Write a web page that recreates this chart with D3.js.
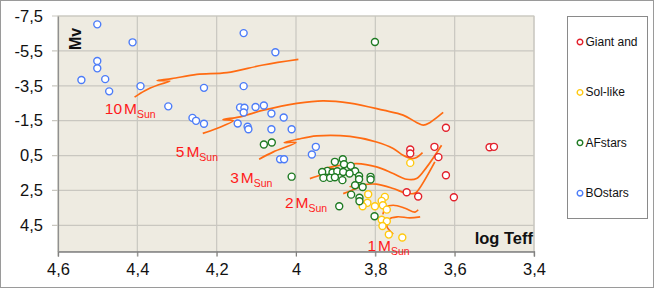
<!DOCTYPE html>
<html><head><meta charset="utf-8">
<script src="https://cdn.jsdelivr.net/npm/d3@7"></script>
<style>body{margin:0;background:#fff}svg{display:block;font-family:"Liberation Sans",Arial,sans-serif}</style>
</head><body><svg id="c" width="654" height="288"></svg>
<script>
// ---- data (log Teff, Mv) ----
const xTicks = [4.6, 4.4, 4.2, 4.0, 3.8, 3.6, 3.4];
const yTicks = [-7.5, -5.5, -3.5, -1.5, 0.5, 2.5, 4.5];
const seriesNames = ["Giant and", "Sol-like", "AFstars", "BOstars"];

const giantStars = [[3.622,-1.09],[3.712,0.15],[3.712,0.38],[3.651,0.00],[3.641,0.59],[3.622,1.63],
  [3.721,2.60],[3.692,2.85],[3.602,2.89],[3.512,0.02],[3.501,0.00]];
const solStars = [[3.712,0.92],[3.818,2.72],[3.776,2.87],[3.784,3.10],[3.820,3.21],[3.832,3.41],[3.801,3.41],
  [3.781,3.35],[3.771,3.60],[3.784,4.18],[3.771,4.27],[3.782,4.54],[3.766,5.03],[3.732,5.20]];
const afStars = [[3.801,-6.01],[4.081,-0.13],[4.061,-0.25],[4.011,1.71],[3.891,3.41],[3.802,3.98],
  [3.902,0.86],[3.882,0.71],[3.879,1.00],[3.862,1.09],[3.921,1.38],[3.934,1.44],[3.908,1.47],[3.896,1.40],
  [3.881,1.44],[3.851,1.40],[3.841,1.67],[3.931,1.78],[3.914,1.78],[3.902,1.74],[3.883,1.91],[3.841,1.86],
  [3.812,1.72],[3.812,1.87],[3.851,2.20],[3.832,2.30],[3.861,2.74],[3.840,2.92],[3.840,3.12],[3.865,1.53]];
const boStars = [[4.501,-7.02],[4.412,-5.99],[4.501,-4.92],[4.501,-4.50],[4.541,-3.83],[4.481,-3.88],
  [4.471,-3.18],[4.392,-3.48],[4.132,-6.52],[4.052,-5.42],[4.232,-3.38],[4.132,-3.48],[4.322,-2.32],
  [4.261,-1.66],[4.252,-1.49],[4.232,-1.32],[4.141,-2.26],[4.130,-2.24],[4.132,-1.97],[4.102,-2.28],
  [4.081,-2.37],[4.062,-1.91],[4.031,-1.68],[4.147,-1.34],[4.122,-1.15],[4.120,-1.01],[4.062,-1.01],
  [4.011,-1.01],[3.950,0.00],[3.960,0.44],[4.040,0.71],[4.030,0.71]];

const track10 = [[4.407,-2.85],[4.381,-3.22],[4.348,-3.54],[4.318,-3.77],[4.350,-3.80],[4.313,-3.91],
  [4.250,-4.15],[4.174,-4.25],[4.083,-4.69],[3.994,-5.01]];
const track5 = [[4.235,-0.77],[4.200,-1.05],[4.158,-1.50],[4.184,-1.56],[4.141,-1.72],[4.082,-2.10],
  [3.998,-2.49],[3.932,-2.64],[3.864,-2.51],[3.780,-2.10],[3.730,-1.82],[3.696,-1.40],[3.679,-1.24],
  [3.662,-1.40],[3.629,-1.97]];
const track3 = [[4.093,0.71],[4.057,0.29],[4.000,-0.25],[4.030,-0.24],[3.995,-0.44],[3.948,-0.63],
  [3.864,-0.60],[3.797,-0.28],[3.755,0.09],[3.730,0.48],[3.708,0.67],[3.696,0.61],[3.681,0.33]];
const track25 = [[3.965,1.82],[3.934,1.57],[3.904,1.25],[3.929,1.25],[3.894,1.08],[3.847,0.96],
  [3.797,1.15],[3.755,1.53],[3.721,1.86],[3.696,1.82],[3.670,1.15],[3.633,-0.09]];
const track2 = [[3.881,2.68],[3.859,2.49],[3.839,2.29],[3.864,2.29],[3.834,2.17],[3.797,2.14],
  [3.755,2.39],[3.725,2.64],[3.704,2.68],[3.696,2.59],[3.650,0.86]];
const track15 = [[3.781,3.87],[3.773,3.46],[3.755,3.35],[3.725,3.52],[3.700,3.74],[3.692,3.61]];
const track1 = [[3.755,5.01],[3.771,4.55],[3.766,4.15],[3.745,4.01],[3.713,4.07],[3.687,4.01]];

const massLabels = ["10", "5", "3", "2", "1"];
const massLabelAt = [[4.482,-1.86],[4.303,0.58],[4.166,2.05],[4.028,3.48],[3.820,5.95]];

// ---- drawing ----
const svg = d3.select("#c");
const x = d3.scaleLinear().domain([4.6, 3.4]).range([58, 534]);
const y = d3.scaleLinear().domain([-7.5, 6]).range([16, 251.5]);
const fmt = d => String(+d.toFixed(1)).replace(".", ",");

svg.append("rect").attr("x",0.5).attr("y",0.5).attr("width",653).attr("height",287)
  .attr("fill","#fff").attr("stroke","#9a9a9a");

const [x0, x1] = x.range(), [y0, y1] = y.range();
svg.append("rect").attr("x",x0).attr("y",y0).attr("width",x1-x0).attr("height",y1-y0)
  .attr("fill","#EEEBE1").attr("stroke","#cfcdc6");

// grid
svg.append("g").selectAll("line").data(yTicks).join("line")
  .attr("x1",x0-6).attr("x2",x1).attr("y1",d=>y(d)).attr("y2",d=>y(d))
  .attr("stroke","#c9c7c0").attr("stroke-width",1.2);
svg.append("g").selectAll("line").data(xTicks).join("line")
  .attr("x1",d=>x(d)).attr("x2",d=>x(d)).attr("y1",y0).attr("y2",y1+5)
  .attr("stroke","#c9c7c0").attr("stroke-width",1.2);

// axes
const xAxis = svg.append("g").attr("transform",`translate(0,${y1})`)
  .call(d3.axisBottom(x).tickValues(xTicks).tickFormat(fmt).tickSize(5).tickPadding(7));
xAxis.select(".domain").attr("stroke","#808080").attr("stroke-width",1.3);
xAxis.selectAll(".tick line").attr("stroke","#808080");
xAxis.selectAll("text").attr("font-size",16.5).attr("fill","#111").attr("font-family","Liberation Sans, Arial, sans-serif");
const yAxis = svg.append("g").attr("transform",`translate(${x0},0)`)
  .call(d3.axisLeft(y).tickValues(yTicks).tickFormat(fmt).tickSize(0).tickPadding(15));
yAxis.select(".domain").attr("stroke","#909090").attr("stroke-width",1.2);
yAxis.selectAll("text").attr("font-size",16.5).attr("fill","#111").attr("font-family","Liberation Sans, Arial, sans-serif");

// tracks
const line = d3.line().x(d=>x(d[0])).y(d=>y(d[1])).curve(d3.curveCatmullRom.alpha(0.5));
svg.append("g").selectAll("path").data([track10, track5, track3, track25, track2, track15, track1]).join("path")
  .attr("d", line).attr("fill","none").attr("stroke","#FF6B12").attr("stroke-width",1.7);

// points
const colors = ["#E3202B", "#FFC910", "#1E7A22", "#4C7CF8"];
const sets = [giantStars, solStars, afStars, boStars];
sets.forEach((s, i) => {
  svg.append("g").selectAll("circle").data(s).join("circle")
    .attr("cx", d=>x(d[0])).attr("cy", d=>y(d[1])).attr("r", 3.5)
    .attr("fill","#fff").attr("stroke", colors[i]).attr("stroke-width", 1.4);
});

// mass labels
massLabels.forEach((m, i) => {
  const t = svg.append("text").attr("x", x(massLabelAt[i][0])).attr("y", y(massLabelAt[i][1]))
    .attr("fill","#FF1A1A").attr("font-size",15.5);
  t.append("tspan").text(m);
  t.append("tspan").attr("dx",2).text("M");
  t.append("tspan").attr("font-size",10.5).attr("dy",4).text("Sun");
});

// axis titles
svg.append("text").attr("transform",`translate(${x0+23},${y0+23}) rotate(-90)`)
  .attr("text-anchor","middle").attr("font-weight","bold").attr("font-size",16).attr("fill","#111").text("Mv");
svg.append("text").attr("x",x1-1).attr("y",y1-8).attr("text-anchor","end")
  .attr("font-weight","bold").attr("font-size",16.5).attr("fill","#111").text("log Teff");

// legend
svg.append("rect").attr("x",567.5).attr("y",16.5).attr("width",80).attr("height",202)
  .attr("fill","#fff").attr("stroke","#8a8a8a");
const lg = svg.append("g").selectAll("g").data(seriesNames).join("g")
  .attr("transform",(d,i)=>`translate(580,${42 + i*50.4})`);
lg.append("circle").attr("r",2.8).attr("fill","#fff").attr("stroke",(d,i)=>colors[i]).attr("stroke-width",1.4);
lg.append("text").attr("x",5.5).attr("y",4).attr("font-size",12).attr("fill","#111").text(d=>d);
</script></body></html>
